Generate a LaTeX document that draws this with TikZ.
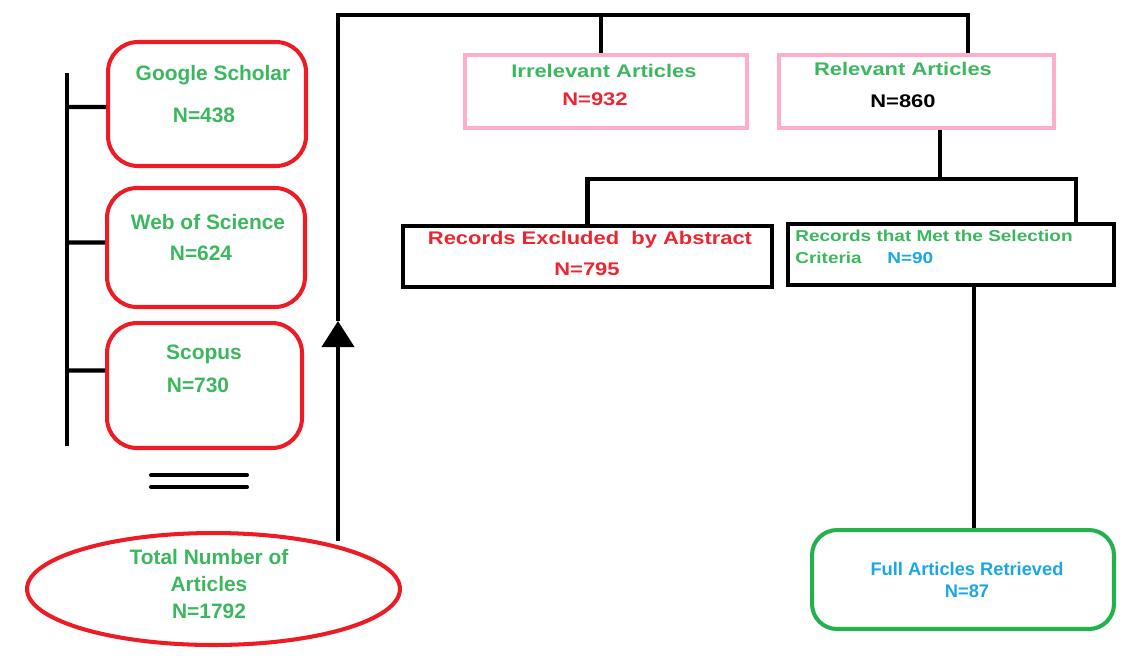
\documentclass[tikz,border=0pt]{standalone}
\usepackage{fontspec}
\setmainfont{Liberation Sans}
\newfontfamily\widefont[FakeStretch=1.2]{Liberation Sans}
\usetikzlibrary{arrows.meta,shapes.geometric}
\definecolor{boxred}{HTML}{ED1C24}
\definecolor{boxpink}{HTML}{FFAEC9}
\definecolor{boxgreen}{HTML}{22B14C}
\definecolor{txtgreen}{HTML}{3BB75E}
\definecolor{txtred}{HTML}{ED2530}
\definecolor{txtblue}{HTML}{1BA6E6}

\begin{document}
\begin{tikzpicture}[x=0.02cm,y=-0.02cm]
\tikzset{
  srcbox/.style={draw=boxred,line width=2.3pt,rounded corners=0.6cm,minimum width=3.96cm,inner sep=0pt},
  pinkbox/.style={draw=boxpink,line width=2.6pt,minimum height=1.46cm,inner sep=0pt},
  blackbox/.style={draw=black,line width=2.3pt,minimum height=1.22cm,inner sep=0pt},
  plain/.style={font=\bfseries\fontsize{11.9}{15.3}\selectfont,inner sep=0pt},
  spread/.style={font=\widefont\bfseries\fontsize{10.4}{13}\selectfont,inner sep=0pt},
  small/.style={font=\widefont\bfseries\fontsize{9}{11}\selectfont,inner sep=0pt},
  link/.style={line width=2.3pt}
}
\useasboundingbox (0,0) rectangle (1142,667);
\node[srcbox,minimum height=2.48cm] (n_gs) at (207,104) {};
\node[srcbox,minimum height=2.38cm] (n_wos) at (206,247.5) {};
\node[srcbox,minimum height=2.50cm,minimum width=3.9cm] (n_sco) at (204.5,385.5) {};
\node[ellipse,draw=boxred,line width=2.3pt,minimum width=7.46cm,minimum height=2.24cm,inner sep=0pt] (n_total) at (213.5,589) {};
\node[pinkbox,minimum width=5.64cm] (n_irr) at (606,91.5) {};
\node[pinkbox,minimum width=5.5cm] (n_rel) at (916.5,91.5) {};
\node[blackbox,minimum width=7.38cm] (n_excl) at (587.5,256.5) {};
\node[blackbox,minimum width=6.52cm] (n_met) at (951,254.5) {};
\node[draw=boxgreen,line width=2.3pt,rounded corners=0.5cm,minimum width=6.04cm,minimum height=1.98cm,inner sep=0pt] (n_full) at (963,579.5) {};
\node[plain,text=txtgreen] (t_gs) at (213,75) {Google Scholar};
\node[plain,text=txtgreen] (t_gsn) at (204,115) {N=438};
\node[plain,text=txtgreen] (t_wos) at (208,222) {Web of Science};
\node[plain,text=txtgreen] (t_wosn) at (201,253) {N=624};
\node[plain,text=txtgreen] (t_sco) at (204,354) {Scopus};
\node[plain,text=txtgreen] (t_scon) at (198,385) {N=730};
\node[plain,text=txtgreen,align=center] (t_total) at (209,584) {Total Number of\\Articles\\N=1792};
\node[spread,text=txtgreen] (t_irr) at (604,71) {Irrelevant Articles};
\node[spread,text=txtred] (t_irrn) at (595,99) {N=932};
\node[spread,text=txtgreen] (t_rel) at (903,69) {Relevant Articles};
\node[spread,text=black] (t_reln) at (903,101) {N=860};
\node[spread,text=txtred] (t_excl) at (590,240) {Records Excluded\ \ by Abstract};
\node[spread,text=txtred] (t_excln) at (587,269) {N=795};
\node[small,text=txtgreen,anchor=west] (t_met) at (795,236) {Records that Met the Selection};
\node[small,text=txtgreen,anchor=west] (t_crit) at (795,258) {Criteria};
\node[small,text=txtblue,anchor=west] (t_metn) at (887,258) {N=90};
\node[plain,text=txtblue,font=\bfseries\fontsize{10.4}{13}\selectfont] (t_full) at (967,569) {Full Articles Retrieved};
\node[plain,text=txtblue,font=\bfseries\fontsize{10.4}{13}\selectfont] (t_fulln) at (967,591) {N=87};
\coordinate (c_bus) at (67,73);
\coordinate (c_foot) at (338,541);
\coordinate (c_arrow) at (338,321);
\coordinate (c_right) at (968,15);
\coordinate (c_split) at (940,179);
\coordinate (c_metin) at (1076,179);
\coordinate (c_down) at (974,400);
\draw[link] (c_bus) -- (67,446);
\draw[link] (c_bus |- n_gs.west) ++(0,3) -- ([yshift=-0.06cm]n_gs.west);
\draw[link] (c_bus |- n_wos.west) ++(0,-5) -- ([yshift=0.1cm]n_wos.west);
\draw[link] (c_bus |- n_sco.west) ++(0,-15) -- ([yshift=0.3cm]n_sco.west);
\draw[link,line cap=round] (151,475) -- (247,475) (151,487) -- (247,487);
\draw[link,-{Triangle[length=0.52cm,width=0.64cm]}] (c_foot) -- (c_arrow);
\draw[link] (c_arrow) |- (c_right) -- (c_right |- n_rel.north);
\draw[link] ([xshift=-0.1cm]n_irr.north) -- ([xshift=-0.1cm]n_irr.north |- c_right);
\draw[link] (c_split |- n_rel.south) -- (c_split);
\draw[link] (n_excl.north) |- (c_metin) -- (c_metin |- n_met.north);
\draw[link] (c_down |- n_met.south) -- (c_down |- n_full.north);
\end{tikzpicture}
\end{document}
